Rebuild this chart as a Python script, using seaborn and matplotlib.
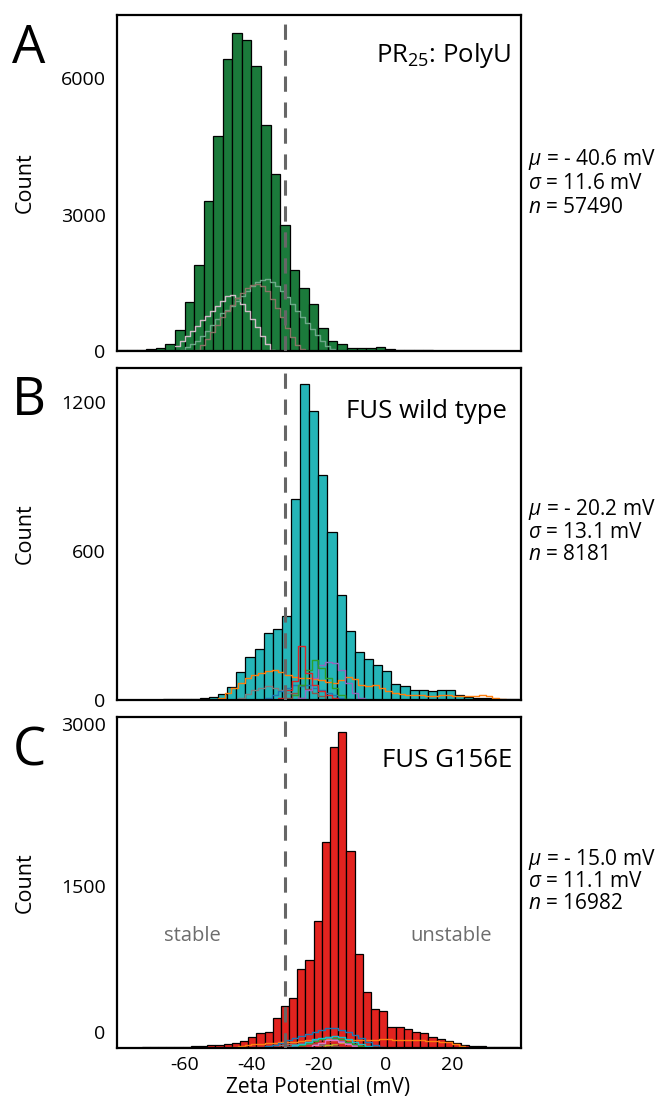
import numpy as np
import seaborn as sns
import matplotlib.pyplot as plt
from matplotlib.transforms import ScaledTranslation

# main histograms: first bin edge, bin width (mV) and counts per bin
a_start, a_width = -80.0, 120 / 42
a_counts = [20, 20, 30, 50, 70, 160, 455, 1085, 1900, 3300, 4730, 6410, 7000, 6830,
            6260, 4970, 3885, 2770, 1775, 1380, 1040, 513, 220, 147, 73, 59, 59, 88,
            37, 30, 22, 15, 12, 10, 8, 6, 5, 4, 3, 3, 2, 2]

b_start, b_width = -80.0, 120 / 44
b_counts = [1, 1, 2, 2, 2, 3, 3, 4, 5, 8, 12, 25, 54, 114, 175, 204, 271, 285, 339,
            810, 1273, 1165, 905, 675, 423, 278, 195, 165, 141, 117, 65, 58, 42, 40,
            38, 40, 42, 20, 12, 10, 8, 6, 5, 4]

c_start, c_width = -80.2, 2.45
c_counts = [3, 3, 4, 5, 5, 6, 8, 10, 12, 15, 18, 25, 28, 37, 49, 68, 105, 142, 151,
            275, 389, 460, 731, 815, 1176, 1904, 2784, 2922, 1824, 870, 522, 358, 346,
            198, 191, 173, 151, 142, 99, 83, 68, 43, 28, 18, 15, 12, 10, 10, 8]

# single-run step histograms drawn on top (start, width, counts, colour)
a_pink = [100, 220, 330, 440, 560, 690, 780, 880, 990, 1100, 1200, 1240, 1160, 1030,
          870, 700, 520, 330, 150, 20]
a_green = [20, 80, 150, 230, 320, 450, 580, 700, 830, 900, 1000, 1100, 1210, 1320, 1430,
           1510, 1570, 1580, 1520, 1420, 1320, 1180, 1030, 880, 740, 620, 490, 360, 230,
           120, 40]
a_brown = [20, 130, 260, 410, 570, 740, 880, 1020, 1170, 1270, 1380, 1450, 1480, 1420,
           1310, 1150, 950, 740, 510, 300, 140, 40]
a_runs = [(-63.0, 1.5, a_pink, "#d2bcc8"), (-61.5, 1.5, a_green, "#6ea98a"),
          (-57.0, 1.5, a_brown, "#8b7466")]

b_orange = [10, 30, 50, 70, 90, 100, 110, 118, 121, 112, 100, 94, 90, 87, 85, 80, 72, 68,
            80, 91, 85, 62, 56, 60, 48, 38, 30, 25, 22, 20, 20, 18, 18, 20, 20, 18, 15, 15,
            18, 20, 15, 10, 5]
b_red = [10, 40, 75, 218, 110, 60, 35, 20, 8]
b_green = [20, 60, 120, 161, 130, 90, 50, 20, 5]
b_purple = [10, 40, 90, 140, 155, 150, 120, 70, 30, 10]
b_blue = [10, 20, 35, 50, 60, 55, 60, 50, 40, 30, 20, 10]
b_gray = [10, 25, 40, 50, 55, 50, 40, 30, 20, 10]
b_brown = [10, 30, 60, 45, 30, 15, 5]
b_runs = [(-50, 2, b_orange, "#ff7f0e"), (-44, 2, b_gray, "#7f7f7f"),
          (-36, 2, b_blue, "#1f77b4"), (-30, 2, b_brown, "#8c564b"),
          (-26, 2, b_purple, "#9467bd"), (-28, 2, b_green, "#2ca02c"),
          (-32, 2, b_red, "#d62728")]

c_blue = [15, 30, 50, 74, 95, 115, 130, 150, 170, 182, 185, 167, 145, 120, 90, 59, 30, 12]
c_orange = [10, 20, 28, 35, 40, 45, 48, 52, 55, 60, 65, 70, 75, 80, 82, 85, 80, 75, 70,
            72, 75, 78, 80, 80, 78, 75, 72, 70, 70, 68, 65, 60, 55, 40, 15]
c_cyan = [10, 25, 40, 60, 80, 95, 105, 111, 100, 80, 55, 35, 20, 10]
c_green = [10, 25, 45, 65, 85, 99, 95, 80, 60, 40, 20, 8]
c_pink = [10, 30, 50, 70, 74, 60, 40, 20, 8]
c_purple = [10, 20, 40, 60, 75, 85, 90, 80, 65, 45, 25, 10]
c_red = [15, 30, 45, 55, 59, 50, 35, 20, 8]
c_gray = [5, 10, 18, 25, 30, 35, 38, 40, 38, 35, 30, 25, 18, 10, 5]
c_olive = [10, 25, 40, 50, 45, 30, 15, 5]
c_brown = [5, 12, 20, 30, 38, 42, 45, 40, 32, 22, 12, 5]
c_runs = [(-40, 2, c_gray, "#7f7f7f"), (-34, 2, c_brown, "#8c564b"),
          (-46, 2, c_orange, "#ff7f0e"), (-20, 2, c_olive, "#bcbd22"),
          (-26, 2, c_red, "#d62728"), (-30, 2, c_purple, "#9467bd"),
          (-24, 2, c_pink, "#e377c2"), (-28, 2, c_green, "#2ca02c"),
          (-30, 2, c_cyan, "#17becf"), (-36, 2, c_blue, "#1f77b4")]

panels = [
    dict(letter="A", title="PR$_{\\mathregular{25}}$: PolyU", start=a_start, width=a_width,
         counts=a_counts, color="#1b7a3b", runs=a_runs, ymax=7385, yticks=[0, 3000, 6000],
         stats=["$\\mu$ = - 40.6 mV", "$\\sigma$ = 11.6 mV", "$n$ = 57490"]),
    dict(letter="B", title="FUS wild type", start=b_start, width=b_width,
         counts=b_counts, color="#25b5b8", runs=b_runs, ymax=1337, yticks=[0, 600, 1200],
         stats=["$\\mu$ = - 20.2 mV", "$\\sigma$ = 13.1 mV", "$n$ = 8181"]),
    dict(letter="C", title="FUS G156E", start=c_start, width=c_width,
         counts=c_counts, color="#e2231f", runs=c_runs, ymax=3065, yticks=[0, 1500, 3000],
         stats=["$\\mu$ = - 15.0 mV", "$\\sigma$ = 11.1 mV", "$n$ = 16982"]),
]

sns.set_style("white")
plt.rcParams["font.family"] = ["Open Sans", "DejaVu Sans"]
plt.rcParams["mathtext.fontset"] = "custom"
plt.rcParams["mathtext.rm"] = "Open Sans"
plt.rcParams["mathtext.it"] = "Open Sans:italic"
for k in ["text.color", "axes.labelcolor", "xtick.color", "ytick.color"]:
    plt.rcParams[k] = "black"

W, H = 661, 1101
fig = plt.figure(figsize=(W / 100, H / 100), dpi=100)


def fx(x):
    return x / W


def fy(y):
    return 1 - y / H


# axes boxes in pixels: top, bottom
boxes = [(15, 351), (368, 700), (717, 1048)]
left, right = 116.7, 521
letter_base = [63, 415, 765]
title_base = [62, 418, 767]
title_right = [511, 507, 512]
stats_base = [[165, 189, 213], [515, 538, 560], [865, 887, 909]]

for i, p in enumerate(panels):
    top, bot = boxes[i]
    ax = fig.add_axes([fx(left), fy(bot), (right - left) / W, (bot - top) / H])

    edges = p["start"] + p["width"] * np.arange(len(p["counts"]) + 1)
    centers = edges[:-1] + p["width"] / 2
    sns.histplot(x=centers, weights=p["counts"], bins=list(edges), color=p["color"], alpha=1,
                 edgecolor="black", linewidth=0.9, ax=ax)

    for start, width, vals, col in p["runs"]:
        e = start + width * np.arange(len(vals) + 1)
        c = e[:-1] + width / 2
        sns.histplot(x=c, weights=vals, bins=list(e), element="step", fill=False, color=col,
                     linewidth=1.0, ax=ax)

    ax.axvline(-30, color="#666666", lw=2.2, dashes=(5, 3.5), zorder=5)

    ax.set_xlim(-80.3, 40.6)
    ax.set_ylim(0, p["ymax"])
    ax.set_yticks(p["yticks"])
    ax.set_ylabel("")
    ax.set_xlabel("")
    ax.tick_params(length=0, labelsize=14, pad=8)
    ax.tick_params(axis="x", pad=6)
    for s in ax.spines.values():
        s.set_color("black")
        s.set_linewidth(1.6)
    if i < 2:
        ax.set_xticks([])
    else:
        ax.set_xticks([-60, -40, -20, 0, 20])
        ax.set_xticklabels(["-60", "-40", "-20", "0", "20"])
        # the zero label sits a little above the baseline in the original
        zl = ax.yaxis.get_major_ticks()[0].label1
        zl.set_transform(zl.get_transform() + ScaledTranslation(0, 0.16, fig.dpi_scale_trans))

    fig.text(fx(29), fy(letter_base[i]), p["letter"], fontsize=38, ha="center", va="baseline")
    fig.text(fx(title_right[i]), fy(title_base[i]), p["title"], fontsize=18.5, ha="right",
             va="baseline")
    fig.text(fx(25), fy((top + bot) / 2), "Count", fontsize=15.5, rotation=90,
             ha="center", va="center")
    for j, line in enumerate(p["stats"]):
        fig.text(fx(528), fy(stats_base[i][j]), line, fontsize=15, ha="left",
                 va="baseline")

fig.text(fx(192), fy(936), "stable", fontsize=14.5, color="#6d6d6d", ha="center", va="center")
fig.text(fx(451), fy(936), "unstable", fontsize=14.5, color="#6d6d6d", ha="center", va="center")
fig.text(fx(318), fy(1088), "Zeta Potential (mV)", fontsize=15, ha="center", va="center")

fig.savefig("out.png", dpi=100)
